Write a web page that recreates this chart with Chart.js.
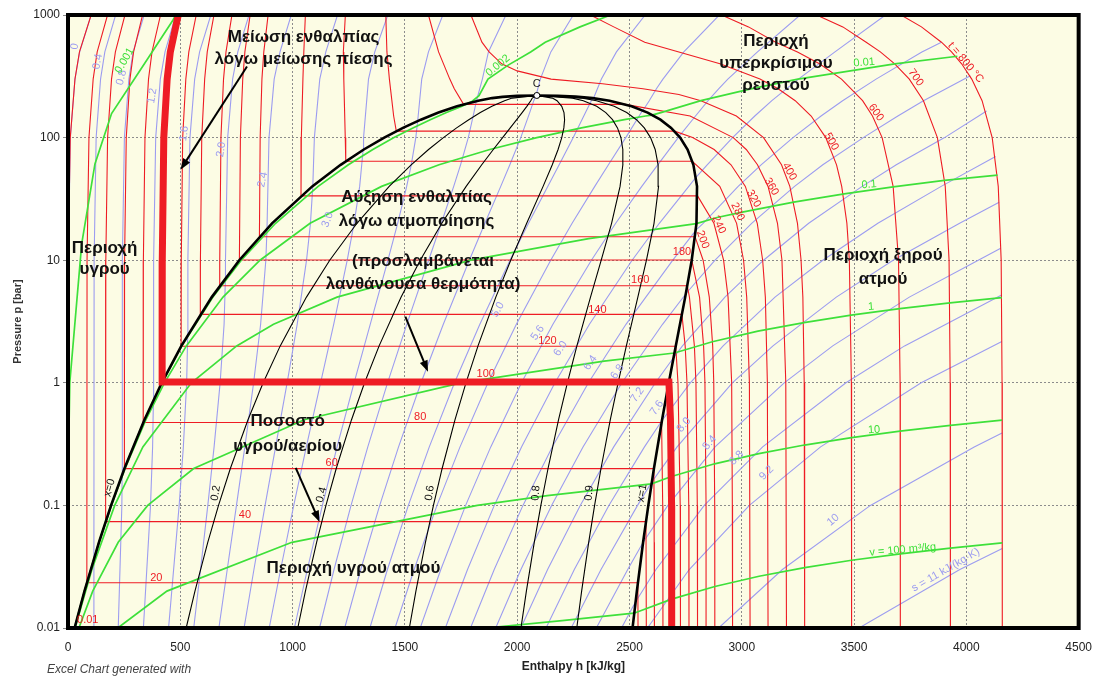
<!DOCTYPE html>
<html lang="el">
<head>
<meta charset="UTF-8">
<title>Διάγραμμα p-h νερού</title>
<script src="https://cdn.jsdelivr.net/npm/chart.js@4.4.1/dist/chart.umd.min.js"></script>
<style>
  body { margin: 0; background: #fff; }
  #wrap { width: 1104px; height: 678px; }
</style>
</head>
<body>
<div id="wrap"><canvas id="ph" width="1104" height="678"></canvas></div>
<script>
// ---- data: points are [h kJ/kg, p bar] ----
const yTicks = [0.01, 0.1, 1, 10, 100, 1000];

const domeLiquid = [[29.3,0.01],[73.4,0.02],[137.7,0.05],[191.8,0.1],[251.4,0.2],[340.5,0.5],[417.5,1],[504.7,2],[640.1,5],[762.5,10],[908.5,20],[1087.4,40],[1213.9,60],[1317.1,80],[1408.1,100],[1491.5,120],[1571,140],[1649.7,160],[1732,180],[1826.6,200],[1888,210],[1935,215],[2000,219],[2087.5,220.64]];
const domeVapour = [[2087.5,220.64],[2180,219.5],[2260,216],[2336,210],[2411.4,200],[2509.5,180],[2580.8,160],[2637.9,140],[2685.4,120],[2725.5,100],[2758.7,80],[2784.6,60],[2800.8,40],[2798.3,20],[2777.1,10],[2748.1,5],[2706.2,2],[2675,1],[2645.2,0.5],[2608.9,0.2],[2583.9,0.1],[2560.7,0.05],[2532.9,0.02],[2513.7,0.01]];

// quality lines x = const, h at the shared pressures
const qualityP = [0.01,0.02,0.05,0.1,0.2,0.5,1,2,5,10,20,40,60,80,100,120,140,160,180,200,210,220.64];
const qualityH = [
  ['0.2', [526.2,565.3,622.3,670.2,722.9,801.4,869.0,945.0,1061.7,1165.4,1286.5,1430.1,1528.0,1605.4,1671.6,1730.3,1784.4,1835.9,1887.5,1943.6,1977.6,2087.5]],
  ['0.4', [1023.1,1057.2,1106.9,1148.6,1194.4,1262.4,1320.5,1385.3,1483.3,1568.3,1664.4,1772.8,1842.2,1893.7,1935.1,1969.1,1997.8,2022.1,2043.0,2060.5,2067.2,2087.5]],
  ['0.6', [1519.9,1549.1,1591.5,1627.1,1665.9,1723.3,1772.0,1825.6,1904.9,1971.3,2042.4,2115.4,2156.3,2182.1,2198.5,2207.8,2211.1,2208.4,2198.5,2177.5,2156.8,2087.5]],
  ['0.8', [2016.8,2041.0,2076.1,2105.5,2137.4,2184.3,2223.5,2265.9,2326.5,2374.2,2420.3,2458.1,2470.5,2470.4,2462.0,2446.6,2424.5,2394.6,2354.0,2294.4,2246.4,2087.5]],
  ['0.9', [2265.3,2287.0,2318.4,2344.7,2373.2,2414.7,2449.3,2486.1,2537.3,2575.6,2609.3,2629.5,2627.5,2614.5,2593.8,2566.0,2531.2,2487.7,2431.8,2352.9,2291.2,2087.5]]
];

// isotherms t [°C]
const isotherms = [
  [0.01, [[103,1000],[51,500],[31,300],[10,100],[1,10],[0.1,1],[0,0.0061]]],
  [20,  [[176,1000],[130,500],[112,300],[93.3,100],[84.8,10],[83.9,0.0234],[2537.4,0.0234],[2538.1,0.01]]],
  [40,  [[253.5,1000],[211,500],[193.8,300],[176.3,100],[168.4,10],[167.5,0.0738],[2573.5,0.0738],[2575,0.01]]],
  [60,  [[332,1000],[292,500],[275.8,300],[259.4,100],[251.9,10],[251.1,0.1995],[2608.8,0.1995],[2610,0.05],[2611,0.01]]],
  [80,  [[412,1000],[374,500],[358.5,300],[342.7,100],[335.6,10],[334.9,0.4739],[2643,0.4739],[2648,0.1],[2649,0.01]]],
  [100, [[491,1000],[455.6,500],[441.5,300],[426.5,100],[419.8,10],[419.1,1.014],[2675.6,1.014],[2682.5,0.5],[2687.5,0.1],[2688,0.01]]],
  [120, [[571,1000],[538,500],[524.6,300],[510.6,100],[504.4,10],[503.8,1.987],[2706,1.987],[2716,1],[2726,0.1],[2727,0.01]]],
  [140, [[650,1000],[620,500],[608.5,300],[595.5,100],[589.6,10],[589.2,3.615],[2733.4,3.615],[2748,2],[2756,1],[2764,0.1],[2765,0.01]]],
  [160, [[730,1000],[703.5,500],[692.5,300],[681,100],[675.7,10],[675.5,6.182],[2757.4,6.182],[2767,5],[2789,2],[2796,1],[2802,0.1],[2803,0.01]]],
  [180, [[811,1000],[787.6,500],[778,300],[767.6,100],[763.1,10.03],[2777.2,10.03],[2812,5],[2830,2],[2836,1],[2841,0.1],[2841,0.01]]],
  [200, [[891,1000],[871.8,500],[863.5,300],[855.6,100],[852.3,15.55],[2792,15.55],[2827.9,10],[2855.4,5],[2870.5,2],[2875.3,1],[2879.5,0.1],[2880,0.01]]],
  [240, [[1057,1000],[1050,500],[1046,300],[1039,100],[1037.5,33.47],[2803.1,33.47],[2876,20],[2919,10],[2939,5],[2955,1],[2958,0.1],[2959,0.01]]],
  [280, [[1235,1000],[1226,500],[1228,300],[1234.5,100],[1236.7,64.17],[2779.6,64.17],[2902,40],[2977,20],[3008,10],[3022,5],[3034,1],[3037,0.01]]],
  [320, [[1415,1000],[1420,500],[1431,300],[1450,150],[1461.8,112.9],[2700.6,112.9],[2781,100],[2877,80],[2952,60],[3016,40],[3069,20],[3093,10],[3105,5],[3114,1],[3117,0.01]]],
  [360, [[1605,1000],[1650,500],[1700,300],[1720,250],[1761.5,186.7],[2481,186.7],[2770,150],[2962,100],[3020,80],[3070,60],[3117,40],[3159,20],[3179,10],[3196,1],[3199,0.01]]],
  [400, [[1794,1000],[1843,600],[1875,500],[1931,400],[2000,350],[2151,300],[2380,275],[2560,250],[2720,225],[2818,200],[2976,150],[3097,100],[3177,60],[3214,40],[3248,20],[3264,10],[3272,5],[3278,1],[3280,0.01]]],
  [500, [[2326,1000],[2430,800],[2568,600],[2720,500],[2903,400],[3081,300],[3162,250],[3238,200],[3309,150],[3374,100],[3422,60],[3445,40],[3468,20],[3479,10],[3488,1],[3489,0.01]]],
  [600, [[2910,1000],[3030,800],[3151,600],[3248,500],[3346,400],[3444,300],[3538,200],[3582,150],[3625,100],[3674,40],[3698,10],[3705,1],[3706,0.01]]],
  [700, [[3333,1000],[3450,800],[3554,600],[3617,500],[3681,400],[3746,300],[3809,200],[3871,100],[3906,40],[3923,10],[3928,1],[3929,0.01]]],
  [800, [[3709,1000],[3800,800],[3889,600],[3934,500],[3979,400],[4024,300],[4070,200],[4115,100],[4142,40],[4155,10],[4159,1],[4160,0.01]]]
];

// isochores v [m3/kg]
const isochores = [
  ['0.001', [[0,0.01],[3,0.3],[8,1],[61,13.6],[120,61],[194,157],[341,402],[467,907],[480,1000]]],
  ['0.002', [[29.3,0.01],[73.5,0.02],[137.8,0.05],[192,0.1],[251.6,0.2],[341,0.5],[418.8,1],[507,2],[645.2,5],[771.6,10],[924.3,20],[1113.8,40],[1248.3,60],[1357.3,80],[1451.6,100],[1535.9,120],[1613.1,140],[1685.2,160],[1754,180],[1800,198],[1830,220],[1870,300],[1960,390],[2060,500],[2125,600],[2280,800],[2416,1000]]],
  ['0.01',  [[29.5,0.01],[73.7,0.02],[138.5,0.05],[193.3,0.1],[254.2,0.2],[346.9,0.5],[429.4,1],[527,2],[690.3,5],[855,10],[1077.9,20],[1396.3,40],[1652.1,60],[1878.2,80],[2087.3,100],[2286.2,120],[2477,140],[2571.8,150],[2600,152.5],[2640,160],[2818,200],[3040,250],[3250,300],[3681,400],[3960,461]]],
  ['0.1',   [[31.2,0.01],[106.4,0.03],[208,0.1],[333.4,0.3],[549.4,1],[751.1,2],[915.2,3],[1197.9,5],[1793.2,10],[2318.3,15],[2798,19.9],[2890,22.3],[3008,24.8],[3231,29.8],[3456,34.8],[3674,39.6],[3902,44.8],[4139,49.5]]],
  ['1',     [[48.5,0.01],[110.1,0.02],[223.6,0.05],[354.9,0.1],[559.6,0.2],[1051.8,0.5],[1749.7,1],[2387,1.5],[2700,1.75],[2869,2.16],[3072,2.64],[3277,3.1],[3487,3.57],[3704,4.03],[3927,4.49],[4158,4.95]]],
  ['10',    [[221.6,0.01],[440.5,0.02],[997.2,0.05],[1822.5,0.1],[2134,0.12],[2598,0.15],[2687,0.1722],[2879,0.2184],[3076,0.2645],[3279,0.3107],[3489,0.3568],[3705,0.403],[3929,0.4491],[4159,0.4952]]],
  ['100',   [[1860,0.01],[2200,0.0115],[2520,0.0132],[2688,0.0172],[2880,0.0218],[3077,0.02645],[3280,0.0311],[3489,0.0357],[3706,0.0403],[3929,0.0449],[4160,0.0495]]]
];

// isentropes s [kJ/(kg K)]
const isentropes = [
  [0,   [[0.5,0.01],[1,1],[2,10],[10.5,100],[31,300],[52,500],[103,1000]]],
  [0.4, [[111.6,0.01],[115.3,0.037],[116.3,10],[125.3,100],[145,300],[164,500],[212,1000]]],
  [0.8, [[223.7,0.01],[239.8,0.1],[241,0.175],[242,10],[251.1,100],[271,300],[290,500],[339,1000]]],
  [1.2, [[335.7,0.01],[367.4,0.1],[376.7,0.3],[380.2,0.72],[381.2,10],[390.5,100],[411,300],[432,500],[480,1000]]],
  [1.6, [[447.8,0.01],[494.9,0.1],[513.6,0.3],[528.3,1],[533,2.45],[533.8,10],[543,100],[564,300],[586,500],[636,1000]]],
  [2.0, [[559.8,0.01],[590.1,0.03],[622.5,0.1],[650.5,0.3],[677.4,1],[695,3],[700.9,7.1],[701.2,10],[711,100],[733,300],[756,500],[806,1000]]],
  [2.4, [[671.8,0.01],[709,0.03],[750.1,0.1],[787.4,0.3],[826.5,1],[857.7,3],[880.9,10],[886,17.9],[895,100],[918,300],[944,500],[994,1000]]],
  [2.8, [[783.9,0.01],[827.9,0.03],[877.6,0.1],[924.3,0.3],[975.6,1],[1020.4,3],[1062.1,10],[1079.6,20],[1090,40.2],[1097,100],[1121,300],[1148,500],[1200,1000]]],
  [3.2, [[895.9,0.01],[946.7,0.03],[1005.2,0.1],[1061.1,0.3],[1124.6,1],[1183,3],[1243.3,10],[1273.8,20],[1298.7,40],[1314,79.2],[1316,100],[1338,300],[1366,500],[1424,1000]]],
  [3.6, [[1008,0.01],[1065.6,0.03],[1132.7,0.1],[1198,0.3],[1273.7,1],[1345.7,3],[1424.5,10],[1467.9,20],[1508,40],[1528.4,60],[1548.6,100],[1557,136.7],[1575,300],[1605,500],[1669,1000]]],
  [4.0, [[1120,0.01],[1184.5,0.03],[1260.3,0.1],[1334.9,0.3],[1422.8,1],[1508.4,3],[1605.7,10],[1662.1,20],[1717.4,40],[1747.9,60],[1782.3,100],[1807.4,160],[1818,197],[1845,300],[1872,500],[1950,1000]]],
  [4.4, [[1232,0.01],[1303.4,0.03],[1387.9,0.1],[1471.8,0.3],[1571.9,1],[1671.1,3],[1786.9,10],[1856.3,20],[1926.8,40],[1967.4,60],[2016,100],[2055.8,160],[2073.9,200],[2084,220.6],[2103,300],[2150,500],[2250,1000]]],
  [4.8, [[1344.1,0.01],[1422.3,0.03],[1515.4,0.1],[1608.7,0.3],[1721,1],[1833.8,3],[1968.1,10],[2050.4,20],[2136.1,40],[2186.9,60],[2249.7,100],[2304.2,160],[2330.1,200],[2340,210],[2375,300],[2442,500],[2570,1000]]],
  [5.2, [[1456.1,0.01],[1541.1,0.03],[1643,0.1],[1745.5,0.3],[1870,1],[1996.4,3],[2149.3,10],[2244.6,20],[2345.5,40],[2406.3,60],[2483.5,100],[2552.6,160],[2560,166.5],[2588,200],[2620,250],[2649,300],[2742,500],[2900,1000]]],
  [5.6, [[1568.2,0.01],[1660,0.03],[1770.5,0.1],[1882.4,0.3],[2019.1,1],[2159.1,3],[2330.5,10],[2438.7,20],[2554.8,40],[2625.8,60],[2717.2,100],[2721,102.3],[2794,150],[2850,200],[2897,250],[2938,300],[3070,500],[3260,1000]]],
  [6.0, [[1680.2,0.01],[1778.9,0.03],[1898.1,0.1],[2019.3,0.3],[2168.2,1],[2321.8,3],[2511.7,10],[2632.9,20],[2764.2,40],[2797,47.7],[2846,60],[2959,100],[3058,150],[3134,200],[3252,300],[3415,500],[3640,1000]]],
  [6.4, [[1792.2,0.01],[1897.8,0.03],[2025.7,0.1],[2156.2,0.3],[2317.3,1],[2484.5,3],[2692.9,10],[2796,17.6],[2828,20],[2984,40],[3086,60],[3228,100],[3353,150],[3449,200],[3598,300],[3802,500],[3889,600]]],
  [6.8, [[1904.3,0.01],[2016.7,0.03],[2153.2,0.1],[2293.1,0.3],[2466.4,1],[2647.2,3],[2752,5.35],[2881,10],[3044,20],[3235,40],[3361,60],[3541,100],[3695,150],[3809,200],[4018,320]]],
  [7.2, [[2016.3,0.01],[2135.5,0.03],[2280.8,0.1],[2429.9,0.3],[2615.4,1],[2696,1.6],[2736,2],[2925,5],[3097,10],[3298,20],[3536,40],[3688,60],[3903,100],[4090,165]]],
  [7.6, [[2128.4,0.01],[2254.4,0.03],[2408.3,0.1],[2566.8,0.3],[2644,0.49],[2771,1],[2917,2],[3148,5],[3361,10],[3606,20],[3888,40],[4130,70]]],
  [8.0, [[2240.4,0.01],[2373.3,0.03],[2535.9,0.1],[2598,0.154],[2712,0.3],[2958,1],[3139,2],[3421,5],[3674,10],[3970,20],[4146,29.7]]],
  [8.4, [[2352.4,0.01],[2492.2,0.03],[2561,0.05],[2671,0.1],[2881,0.3],[3189,1],[3405,2],[3746,5],[4053,10],[4153,12.5]]],
  [8.8, [[2464.5,0.01],[2526,0.0162],[2618,0.03],[2833,0.1],[3093,0.3],[3464,1],[3725,2],[4157,5.2]]],
  [9.2, [[2580,0.01],[2766,0.03],[3034,0.1],[3351,0.3],[3799,1],[4158,2.17]]],
  [10,  [[2897,0.01],[3181,0.03],[3573,0.1],[4035,0.3],[4159,0.39]]],
  [11,  [[3522,0.01],[3971,0.03],[4160,0.0446]]]
];

// labels: [text, h, p, angle°]
const isothermLabels = [['0.01',88,0.0116,0],['20',393,0.0256,0],['40',788,0.0836,0],['60',1174,0.222,0],['80',1568,0.527,0],['100',1860,1.18,0],['120',2135,2.2,0],['140',2357,3.95,0],['160',2548,6.93,0],['180',2734,11.7,0],['200',2826,14.7,70],['240',2898,19.5,65],['280',2982,24.9,65],['320',3053,31.8,60],['360',3132,39.8,60],['400',3212,52.7,60],['500',3399,92.7,60],['600',3598,160,55],['700',3775,309,55],['t = 800 °C',3997,409,50]];
const isentropeLabels = [['0',30,553,-80],['0.4',132,417,-80],['0.8',238,309,-75],['1.2',375,220,-80],['1.6',517,108,-82],['2.0',682,79.8,-82],['2.4',867,45.4,-78],['3.0',1156,21.4,-70],['5.0',1914,3.95,-60],['5.6',2091,2.56,-55],['6.0',2193,1.9,-55],['6.4',2326,1.46,-55],['6.8',2446,1.23,-55],['7.2',2535,0.798,-55],['7.6',2622,0.625,-55],['8.0',2742,0.454,-50],['8.4',2857,0.324,-50],['8.8',2977,0.244,-45],['9.2',3110,0.184,-45],['10',3407,0.0762,-40],['s = 11 kJ/(kg·K)',3908,0.0297,-30]];
const isochoreLabels = [['0.001',252,425,-60],['0.002',1914,387,-40],['0.01',3545,409,-5],['0.1',3567,41.3,-4],['1',3576,4.17,-4],['10',3589,0.413,-4],['v = 100 m³/kg',3717,0.0434,-5]];
const qualityLabels = [['x=0',185,0.139,-75],['0.2',658,0.126,-80],['0.4',1129,0.122,-75],['0.6',1611,0.126,-82],['0.8',2083,0.126,-85],['0.9',2320,0.126,-85],['x=1',2556,0.126,-80]];

const notes = [['Μείωση ενθαλπίας',1049,655],['λόγω μείωσης πίεσης',1049,433],['Περιοχή',3152,608],['υπερκρίσιμου',3152,402],['ρευστού',3152,266],['Αύξηση ενθαλπίας',1552,32.4],['λόγω ατμοποίησης',1552,20.6],['(προσλαμβάνεται',1581,9.72],['λανθάνουσα θερμότητα)',1581,6.31],['Περιοχή',163,12.6],['υγρού',163,8.36],['Περιοχή ξηρού',3629,10.9],['ατμού',3629,6.93],['Ποσοστό',978,0.481],['υγρού/αερίου',978,0.306],['Περιοχή υγρού ατμού',1271,0.0309]];
const arrows = [[797,380,501,54.8],[1502,3.46,1603,1.23],[1014,0.202,1120,0.0733]];
const critical = [2087.5, 220.64];

// ---- styling ----
const RED = '#ee1c24', BLUE = '#9c9cf0', GREEN = '#3ee03a', BLACK = '#000';
const FONT = 'Arial, "Liberation Sans", sans-serif';

function line(pts, color, width) {
  return { data: pts.map(([h, p]) => ({ x: h, y: p })), borderColor: color, borderWidth: width,
           showLine: true, pointRadius: 0, fill: false, tension: 0 };
}

const datasets = [];
// thick path along the 100 °C isotherm (drawn on top)
datasets.push(line(isotherms.find(t => t[0] === 100)[1], RED, 7));
datasets.push(line(domeLiquid.concat(domeVapour.slice(1)), BLACK, 2.6));
qualityH.forEach(([q, hs]) => datasets.push(line(hs.map((h, i) => [h, qualityP[i]]), BLACK, 1.1)));
isochores.forEach(([v, pts]) => datasets.push(line(pts, GREEN, 1.7)));
isotherms.forEach(([t, pts]) => datasets.push(line(pts, RED, 1.1)));
isentropes.forEach(([s, pts]) => datasets.push(line(pts, BLUE, 1.1)));

const background = {
  id: 'background',
  beforeDraw(chart) {
    const { ctx, chartArea: a } = chart;
    ctx.save();
    ctx.fillStyle = '#fcfce4';
    ctx.fillRect(a.left, a.top, a.right - a.left, a.bottom - a.top);
    ctx.restore();
  }
};

function putText(ctx, text, x, y, deg, color, font) {
  ctx.save();
  ctx.translate(x, y);
  ctx.rotate(deg * Math.PI / 180);
  ctx.fillStyle = color;
  ctx.font = font;
  ctx.textAlign = 'center';
  ctx.textBaseline = 'middle';
  ctx.fillText(text, 0, 0);
  ctx.restore();
}

const overlay = {
  id: 'overlay',
  afterDatasetsDraw(chart) {
    const { ctx, chartArea: a, scales: { x, y } } = chart;
    const X = h => x.getPixelForValue(h), Y = p => y.getPixelForValue(p);

    // frame
    ctx.save();
    ctx.strokeStyle = '#000';
    ctx.lineWidth = 4;
    ctx.strokeRect(a.left, a.top, a.right - a.left, a.bottom - a.top);
    ctx.restore();

    const small = '11px ' + FONT;
    isothermLabels.forEach(([t, h, p, r]) => putText(ctx, t, X(h), Y(p), r, RED, small));
    isentropeLabels.forEach(([t, h, p, r]) => putText(ctx, t, X(h), Y(p), r, BLUE, small));
    isochoreLabels.forEach(([t, h, p, r]) => putText(ctx, t, X(h), Y(p), r, GREEN, small));
    qualityLabels.forEach(([t, h, p, r]) => putText(ctx, t, X(h), Y(p), r, '#111', small));

    // critical point
    const cx = X(critical[0]), cy = Y(critical[1]);
    ctx.save();
    ctx.beginPath();
    ctx.arc(cx, cy, 3, 0, Math.PI * 2);
    ctx.fillStyle = '#fff';
    ctx.fill();
    ctx.lineWidth = 1;
    ctx.strokeStyle = '#000';
    ctx.stroke();
    ctx.restore();
    putText(ctx, 'C', cx, cy - 11, 0, '#222', small);

    // arrows
    arrows.forEach(([h1, p1, h2, p2]) => {
      const x1 = X(h1), y1 = Y(p1), x2 = X(h2), y2 = Y(p2);
      const ang = Math.atan2(y2 - y1, x2 - x1);
      ctx.save();
      ctx.strokeStyle = '#000';
      ctx.fillStyle = '#000';
      ctx.lineWidth = 2;
      ctx.beginPath();
      ctx.moveTo(x1, y1);
      ctx.lineTo(x2 - 8 * Math.cos(ang), y2 - 8 * Math.sin(ang));
      ctx.stroke();
      ctx.beginPath();
      ctx.moveTo(x2, y2);
      ctx.lineTo(x2 - 12 * Math.cos(ang - 0.35), y2 - 12 * Math.sin(ang - 0.35));
      ctx.lineTo(x2 - 12 * Math.cos(ang + 0.35), y2 - 12 * Math.sin(ang + 0.35));
      ctx.closePath();
      ctx.fill();
      ctx.restore();
    });

    // region notes
    notes.forEach(([t, h, p]) => putText(ctx, t, X(h), Y(p), 0, '#111', 'bold 17px ' + FONT));
  },
  afterDraw(chart) {
    const { ctx, chartArea: a } = chart;
    putText(ctx, 'Enthalpy h [kJ/kg]', (a.left + a.right) / 2, 667, 0, '#222', 'bold 12px ' + FONT);
    putText(ctx, 'Pressure p [bar]', 18, (a.top + a.bottom) / 2, -90, '#333', 'bold 11px ' + FONT);
    ctx.save();
    ctx.font = 'italic 12px ' + FONT;
    ctx.fillStyle = '#444';
    ctx.textBaseline = 'middle';
    ctx.fillText('Excel Chart generated with', 47, 670);
    ctx.restore();
  }
};

new Chart(document.getElementById('ph'), {
  type: 'scatter',
  data: { datasets },
  options: {
    responsive: false,
    animation: false,
    devicePixelRatio: 1,
    layout: { padding: { top: 15, right: 20, left: 0, bottom: 0 } },
    plugins: { legend: { display: false }, tooltip: { enabled: false } },
    scales: {
      x: {
        type: 'linear', min: 0, max: 4500,
        ticks: { stepSize: 500, callback: v => String(v), color: '#222', font: { family: FONT, size: 12 }, padding: 12, maxRotation: 0 },
        grid: { color: '#8c8c8c', lineWidth: 1, drawTicks: false },
        border: { display: false, dash: [2, 2] },
        afterFit(s) { s.height = 50; }
      },
      y: {
        type: 'logarithmic', min: 0.01, max: 1000,
        afterBuildTicks(s) { s.ticks = yTicks.map(v => ({ value: v })); },
        ticks: { callback: v => String(v), color: '#222', font: { family: FONT, size: 12 }, padding: 3 },
        grid: { color: '#8c8c8c', lineWidth: 1, tickLength: 5, tickBorderDash: [] },
        border: { display: false, dash: [2, 2] },
        afterFit(s) { s.width = 68; }
      }
    }
  },
  plugins: [background, overlay]
});
</script>
</body>
</html>
